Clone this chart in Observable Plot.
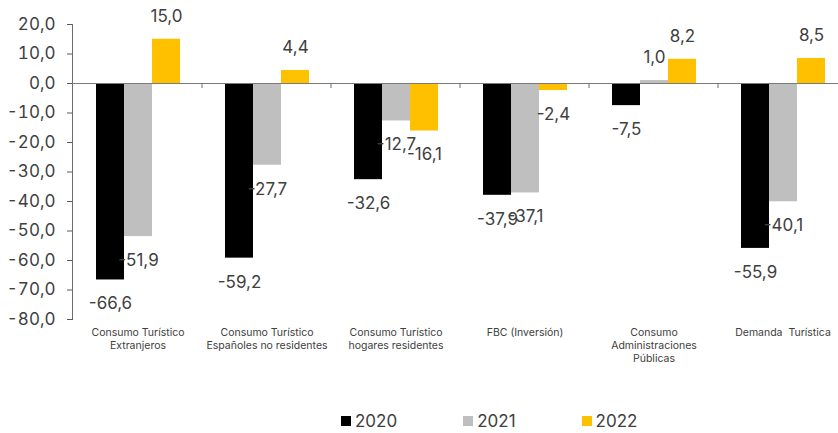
<!DOCTYPE html>
<html><head><meta charset="utf-8">
<script src="https://cdn.jsdelivr.net/npm/d3@7"></script>
<script src="https://cdn.jsdelivr.net/npm/@observablehq/plot@0.6"></script>
<style>
body{margin:0;background:#fff;font-family:Inter,sans-serif;}
#wrap{position:relative;width:838px;height:433px;overflow:hidden;}
#legend{position:absolute;left:341px;top:409px;height:24px;display:flex;align-items:center;gap:66px;font-size:17px;color:#404040;}
.item{display:flex;align-items:center;gap:4px}
.sw{width:10px;height:10px;display:inline-block}
</style></head><body><div id="wrap"><div id="chart"></div><div id="legend"></div></div>
<script>
const categories = ["Consumo Turístico Extranjeros","Consumo Turístico Españoles no residentes","Consumo Turístico hogares residentes","FBC (Inversión)","Consumo Administraciones Públicas","Demanda  Turística"];
const categoryLabels = ["Consumo Turístico\nExtranjeros","Consumo Turístico\nEspañoles no residentes","Consumo Turístico\nhogares residentes","FBC (Inversión)","Consumo\nAdministraciones\nPúblicas","Demanda  Turística"];
const years = ["2020","2021","2022"];
const values2020 = [-66.6,-59.2,-32.6,-37.9,-7.5,-55.9];
const values2021 = [-51.9,-27.7,-12.7,-37.1,1.0,-40.1];
const values2022 = [15.0,4.4,-16.1,-2.4,8.2,8.5];
const colors = ["#000000","#BFBFBF","#FFC000"];
const yTicks = [20,10,0,-10,-20,-30,-40,-50,-60,-70,-80];

const series = [values2020, values2021, values2022];
const data = categories.flatMap((c,i)=>years.map((yr,j)=>({category:c, year:yr, value:series[j][i]})));
const fmt = v => v.toFixed(1).replace(".", ",");

const plot = Plot.plot({
  width:848, height:400, marginTop:24, marginBottom:81, marginLeft:72, marginRight:0,
  fx:{domain:categories, padding:0, label:null},
  x:{domain:years, paddingInner:0, paddingOuter:0.77, axis:null},
  y:{domain:[-80,20], label:null},
  color:{domain:years, range:colors},
  style:{fontFamily:"Inter, sans-serif", color:"#404040", background:"transparent", maxWidth:"none"},
  marks:[
    Plot.barY(data,{fx:"category", x:"year", y:"value", fill:"year"}),
    Plot.ruleY([0],{stroke:"#7a7a7a"}),
    Plot.text(data.filter(d=>d.value>=0),{fx:"category",x:"year",y:"value",text:d=>fmt(d.value),dy:-23,fontSize:17,fill:"#404040"}),
    Plot.text(data.filter(d=>d.value<0),{fx:"category",x:"year",y:"value",text:d=>fmt(d.value),dy:24,fontSize:17,fill:"#404040"}),
    Plot.axisY({ticks:yTicks, tickFormat:fmt, tickSize:6, tickPadding:12, fontSize:17, stroke:"#595959", fill:"#404040", label:null}),
    Plot.axisFx({anchor:"bottom", tickSize:0, tickPadding:7, fontSize:10.5, lineHeight:1.24, tickFormat:c=>categoryLabels[categories.indexOf(c)], label:null, fill:"#404040"})
  ]
});
document.getElementById("chart").appendChild(plot);

const fxS = plot.scale("fx"), yS = plot.scale("y");
const svg = d3.select(plot);
const g = svg.append("g").attr("stroke","#6d6d6d").attr("stroke-width",1);
g.append("line").attr("x1",fxS.range[0]+0.5).attr("x2",fxS.range[0]+0.5).attr("y1",yS.apply(20)).attr("y2",yS.apply(-80));
categories.slice(1).forEach(c=>{
  const x = fxS.apply(c);
  g.append("line").attr("x1",x).attr("x2",x).attr("y1",yS.apply(0)).attr("y2",yS.apply(0)+5);
});

const legend = d3.select("#legend");
years.forEach((yr,i)=>{
  const it = legend.append("div").attr("class","item");
  it.append("span").attr("class","sw").style("background",colors[i]);
  it.append("span").text(yr);
});
</script></body></html>
